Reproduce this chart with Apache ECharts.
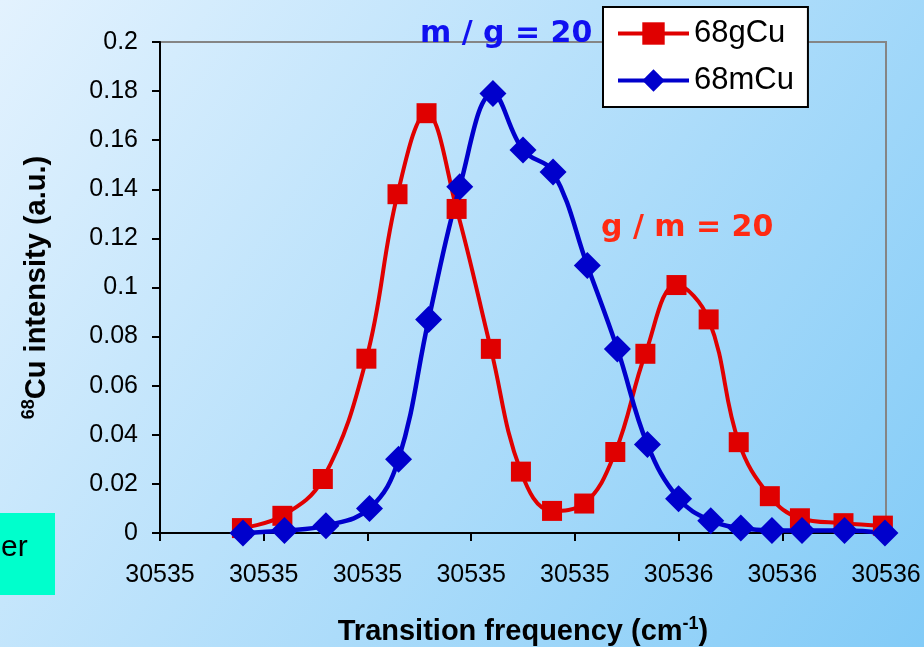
<!DOCTYPE html>
<html><head><meta charset="utf-8">
<script src="https://cdn.jsdelivr.net/npm/echarts@6/dist/echarts.min.js"></script>
<style>html,body{margin:0;padding:0;}#c{width:924px;height:647px;}</style>
</head><body><div id="c"></div>
<script>
// ---- data ----
const gCuFreq = [30535.079, 30535.118, 30535.157, 30535.199, 30535.229, 30535.257, 30535.286, 30535.319, 30535.348, 30535.378,
                 30535.409, 30535.439, 30535.468, 30535.498, 30535.529, 30535.558, 30535.588, 30535.617, 30535.659, 30535.697];
const gCuIntensity = [0.002, 0.007, 0.022, 0.071, 0.138, 0.171, 0.132, 0.075, 0.025, 0.009,
                      0.012, 0.033, 0.073, 0.101, 0.087, 0.037, 0.015, 0.006, 0.004, 0.003];
const mCuFreq = [30535.080, 30535.120, 30535.160, 30535.202, 30535.230, 30535.259, 30535.289, 30535.321, 30535.350, 30535.379,
                 30535.412, 30535.441, 30535.470, 30535.500, 30535.531, 30535.560, 30535.590, 30535.619, 30535.660, 30535.699];
const mCuIntensity = [0.000, 0.001, 0.003, 0.010, 0.030, 0.087, 0.141, 0.179, 0.156, 0.147,
                      0.109, 0.075, 0.036, 0.014, 0.005, 0.002, 0.001, 0.001, 0.001, 0.000];
const seriesNames = ['68gCu', '68mCu'];
const xTickLabels = ['30535', '30535', '30535', '30535', '30535', '30536', '30536', '30536'];
const yTickLabels = ['0', '0.02', '0.04', '0.06', '0.08', '0.1', '0.12', '0.14', '0.16', '0.18', '0.2'];
const xMin = 30535.0, xMax = 30535.7, xStep = 0.1;
const yMin = 0, yMax = 0.2, yStep = 0.02;

const zip = (xs, ys) => xs.map((x, i) => [x, ys[i]]);
const FONT = 'Liberation Sans, Arial, sans-serif';

const chart = echarts.init(document.getElementById('c'), null, {renderer: 'canvas'});
chart.setOption({
  backgroundColor: {
    type: 'linear', x: 0, y: 0, x2: 1, y2: 1,
    colorStops: [{offset: 0, color: '#e3f2fe'}, {offset: 1, color: '#82cbf7'}]
  },
  animation: false,
  textStyle: {fontFamily: FONT},
  grid: {left: 160, right: 38, top: 42, bottom: 114, show: true, outerBoundsMode: 'none', containLabel: false,
         borderColor: '#858585', borderWidth: 2, backgroundColor: 'transparent'},
  legend: {
    orient: 'vertical', left: 603, top: 7,
    backgroundColor: '#ffffff', borderColor: '#000000', borderWidth: 2,
    padding: [11, 14, 11, 13], itemGap: 16, itemWidth: 71, itemHeight: 28,
    lineStyle: {width: 4},
    textStyle: {fontSize: 31, color: '#000', fontFamily: FONT},
    data: seriesNames
  },
  xAxis: {
    type: 'value', min: xMin, max: xMax, interval: xStep,
    axisLine: {lineStyle: {color: '#000', width: 2}},
    axisTick: {show: true, length: 8, lineStyle: {color: '#000', width: 2}},
    splitLine: {show: false},
    axisLabel: {fontSize: 25, color: '#000', margin: 30, fontFamily: FONT,
                formatter: (v, i) => xTickLabels[i] !== undefined ? xTickLabels[i] : ''},
    name: 'Transition frequency (cm{sup|-1})',
    nameLocation: 'middle', nameGap: 82,
    nameTextStyle: {fontSize: 29, fontWeight: 'bold', color: '#000', fontFamily: FONT, lineHeight: 34,
      rich: {sup: {fontSize: 18, fontWeight: 'bold', color: '#000', verticalAlign: 'top', lineHeight: 34, fontFamily: FONT}}}
  },
  yAxis: {
    type: 'value', min: yMin, max: yMax, interval: yStep,
    axisLine: {lineStyle: {color: '#000', width: 2}},
    axisTick: {show: true, length: 8, lineStyle: {color: '#000', width: 2}},
    splitLine: {show: false},
    axisLabel: {fontSize: 25, color: '#000', margin: 22, fontFamily: FONT,
                formatter: (v, i) => yTickLabels[i] !== undefined ? yTickLabels[i] : ''},
    name: '{sup|68}Cu intensity (a.u.)',
    nameLocation: 'middle', nameGap: 106,
    nameTextStyle: {fontSize: 29, fontWeight: 'bold', color: '#000', fontFamily: FONT, lineHeight: 34,
      rich: {sup: {fontSize: 18, fontWeight: 'bold', color: '#000', verticalAlign: 'top', lineHeight: 34, fontFamily: FONT}}}
  },
  series: [
    {
      name: seriesNames[0], type: 'line', data: zip(gCuFreq, gCuIntensity),
      smooth: 0.4, clip: false,
      symbol: 'rect', symbolSize: 20,
      lineStyle: {color: '#e00000', width: 4},
      itemStyle: {color: '#e00000'}
    },
    {
      name: seriesNames[1], type: 'line', data: zip(mCuFreq, mCuIntensity),
      smooth: 0.4, clip: false,
      symbol: 'diamond', symbolSize: 27,
      lineStyle: {color: '#0000cc', width: 4.5},
      itemStyle: {color: '#0000cc'}
    }
  ],
  graphic: [
    {type: 'rect', left: 0, top: 513, shape: {width: 55, height: 82}, style: {fill: '#00ffcc'}, z: 10},
    {type: 'text', left: 1, top: 533, style: {text: 'er', fontSize: 30, fill: '#000', fontFamily: FONT}, z: 11},
    {type: 'text', left: 420, top: 19, style: {text: 'm / g = 20', fontSize: 30, fontWeight: 'bold', fill: '#1010f0', fontFamily: 'DejaVu Sans, sans-serif'}, z: 20},
    {type: 'text', left: 601, top: 213, style: {text: 'g / m = 20', fontSize: 30, fontWeight: 'bold', fill: '#ff2a12', fontFamily: 'DejaVu Sans, sans-serif'}, z: 20}
  ]
});
</script>
</body></html>
